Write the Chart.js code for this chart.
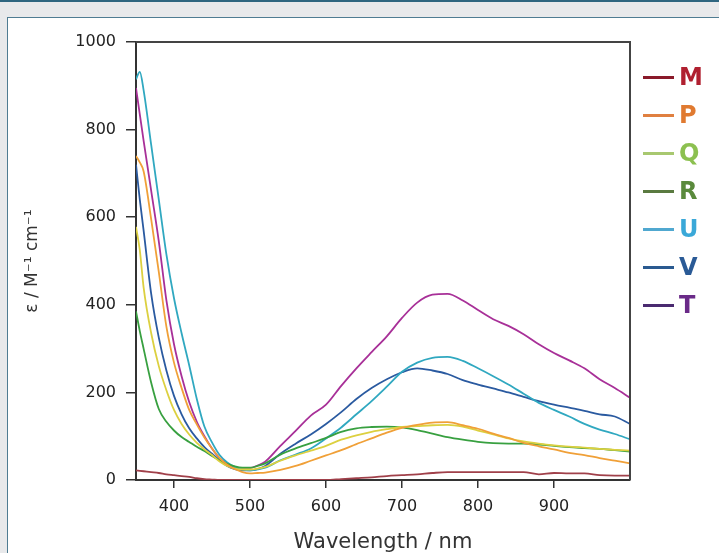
<!DOCTYPE html>
<html>
<head>
<meta charset="utf-8">
<script src="https://cdn.jsdelivr.net/npm/chart.js@4.4.1/dist/chart.umd.min.js"></script>
<style>
  html, body { margin: 0; padding: 0; }
  body { width: 719px; height: 553px; background: #e8e9eb; position: relative; overflow: hidden; }
  .topline { position: absolute; left: 0; top: 0; width: 719px; height: 2px; background: #2f6680; }
  .panel { position: absolute; left: 7px; top: 17px; right: 0; bottom: 0; background: #fff;
           border-left: 1px solid #4f7c92; border-top: 1px solid #4f7c92; }
  #wrap { position: absolute; left: 0; top: 0; width: 719px; height: 553px; }
  #legend { position: absolute; left: 0; top: 0; }
  .item { position: absolute; left: 643px; height: 26px; display: flex; align-items: center; }
  .item .ln { width: 31px; height: 3px; margin-right: 5px; }
  .item .lb { font: bold 24px "DejaVu Sans", sans-serif; line-height: 26px; }
</style>
</head>
<body>
<div class="topline"></div>
<div class="panel"></div>
<div id="wrap"><canvas id="chart"></canvas></div>
<div id="legend"></div>
<script>
// wavelength (nm) shared by all series
const wavelengths = [350, 355, 360, 370, 380, 390, 400, 410, 420, 430, 440, 450, 460, 470, 480, 490, 500,
  510, 520, 540, 560, 580, 600, 620, 640, 660, 680, 700, 720, 740, 760, 780, 800, 820, 840, 860, 880, 900,
  920, 940, 960, 980, 1000];

const seriesNames = ["M", "P", "Q", "R", "U", "V", "T"];

const valuesM = [22, 21, 20, 18, 16, 13, 11, 9, 7, 4, 2, 1, 0, 0, 0, 0, 0, 0, 0, 0, 0, 0, 0, 2, 4, 6, 9, 11,
  13, 16, 18, 18, 18, 18, 18, 18, 13, 16, 15, 15, 11, 10, 10];
const valuesP = [740, 725, 705, 595, 475, 350, 268, 210, 160, 127, 97, 72, 50, 35, 25, 18, 15, 16, 17, 23, 32,
  44, 56, 68, 82, 95, 108, 119, 126, 131, 132, 125, 117, 106, 96, 85, 77, 70, 62, 57, 50, 44, 38];
const valuesQ = [578, 525, 440, 335, 260, 205, 160, 128, 104, 85, 70, 57, 42, 32, 26, 24, 24, 26, 30, 44, 56,
  67, 78, 92, 102, 110, 116, 121, 123, 125, 126, 122, 113, 104, 95, 88, 83, 79, 76, 74, 71, 69, 67];
const valuesR = [385, 340, 300, 222, 162, 133, 113, 98, 87, 76, 66, 55, 45, 37, 31, 28, 28, 32, 38, 58, 72,
  84, 96, 110, 118, 121, 122, 120, 114, 106, 98, 92, 87, 84, 83, 83, 81, 78, 75, 73, 71, 68, 65];
const valuesU = [915, 932, 890, 765, 640, 515, 415, 335, 262, 185, 122, 86, 57, 40, 30, 24, 22, 24, 28, 45,
  58, 72, 95, 120, 150, 180, 213, 247, 268, 279, 281, 272, 255, 237, 218, 197, 176, 160, 145, 128, 115, 105, 93];
const valuesV = [720, 640, 570, 425, 325, 250, 192, 150, 118, 95, 75, 60, 45, 32, 25, 22, 22, 25, 32, 60, 83,
  104, 128, 155, 185, 210, 230, 246, 255, 250, 242, 228, 218, 209, 200, 190, 180, 172, 165, 158, 150, 145, 128];
const valuesT = [895, 835, 775, 660, 545, 410, 310, 237, 178, 133, 100, 72, 50, 37, 29, 26, 27, 33, 42, 78,
  112, 147, 172, 215, 255, 292, 328, 370, 405, 423, 425, 410, 388, 367, 352, 333, 310, 290, 273, 255, 230, 210, 188];

const xTicks = [400, 500, 600, 700, 800, 900];
const yTicks = [0, 200, 400, 600, 800, 1000];

// styles
const lineColors = ["#a0404a", "#f0a038", "#dcd040", "#38a040", "#30a8c0", "#2a5aa0", "#a83098"];
const keyLineColors = ["#8a1a2a", "#e08040", "#a8c870", "#5a7a40", "#50a8d0", "#2a5a90", "#4a2a70"];
const keyTextColors = ["#b02030", "#e07a30", "#8cc050", "#5a8a3c", "#3aa8d8", "#2a5a96", "#6a2a88"];

const allValues = [valuesM, valuesP, valuesQ, valuesR, valuesU, valuesV, valuesT];

const datasets = seriesNames.map((name, i) => ({
  label: name,
  data: wavelengths.map((w, k) => ({ x: w, y: allValues[i][k] })),
  borderColor: lineColors[i],
  borderWidth: 1.8,
  pointRadius: 0,
  fill: false,
  cubicInterpolationMode: "monotone"
}));

// top and right edge of the plot box
const frame = {
  id: "frame",
  afterDatasetsDraw(chart) {
    const { ctx, chartArea: a } = chart;
    ctx.save();
    ctx.strokeStyle = "#444";
    ctx.lineWidth = 2;
    ctx.beginPath();
    ctx.moveTo(a.left, a.top);
    ctx.lineTo(a.right, a.top);
    ctx.lineTo(a.right, a.bottom);
    ctx.stroke();
    ctx.restore();
  }
};

const tickFont = { family: "DejaVu Sans", size: 16 };

new Chart(document.getElementById("chart"), {
  type: "line",
  data: { datasets: datasets },
  plugins: [frame],
  options: {
    responsive: true,
    maintainAspectRatio: false,
    animation: false,
    layout: { padding: { top: 42, right: 89, left: 0, bottom: 0 } },
    plugins: { legend: { display: false }, tooltip: { enabled: false } },
    scales: {
      x: {
        type: "linear",
        min: 350,
        max: 1000,
        afterBuildTicks: (s) => { s.ticks = xTicks.map((v) => ({ value: v })); },
        afterFit: (s) => { s.height = 73; },
        ticks: { color: "#222", font: tickFont, padding: 9, autoSkip: false, maxRotation: 0,
                 callback: (v) => String(v) },
        grid: { drawOnChartArea: false, tickLength: 8, color: "#333", lineWidth: 1.5 },
        border: { color: "#333", width: 2 },
        title: {
          display: true, text: "Wavelength / nm", color: "#333",
          font: { family: "DejaVu Sans", size: 21, lineHeight: 1 },
          padding: { top: 0, bottom: 0 }
        }
      },
      y: {
        min: 0,
        max: 1000,
        afterBuildTicks: (s) => { s.ticks = yTicks.map((v) => ({ value: v })); },
        afterFit: (s) => { s.width = 136; },
        ticks: { color: "#222", font: tickFont, padding: 10, autoSkip: false,
                 callback: (v) => String(v) },
        grid: { drawOnChartArea: false, tickLength: 10, color: "#333", lineWidth: 1.5 },
        border: { color: "#333", width: 2 },
        title: {
          display: true, text: "ε / M⁻¹ cm⁻¹", color: "#333",
          font: { family: "DejaVu Sans", size: 17, lineHeight: 1.2 },
          padding: { top: 22, bottom: 0 }
        }
      }
    }
  }
});

// legend at the right
const legend = document.getElementById("legend");
seriesNames.forEach((name, i) => {
  const item = document.createElement("div");
  item.className = "item";
  item.style.top = (64 + i * 38) + "px";
  const ln = document.createElement("div");
  ln.className = "ln";
  ln.style.background = keyLineColors[i];
  const lb = document.createElement("span");
  lb.className = "lb";
  lb.style.color = keyTextColors[i];
  lb.textContent = name;
  item.appendChild(ln);
  item.appendChild(lb);
  legend.appendChild(item);
});
</script>
</body>
</html>
